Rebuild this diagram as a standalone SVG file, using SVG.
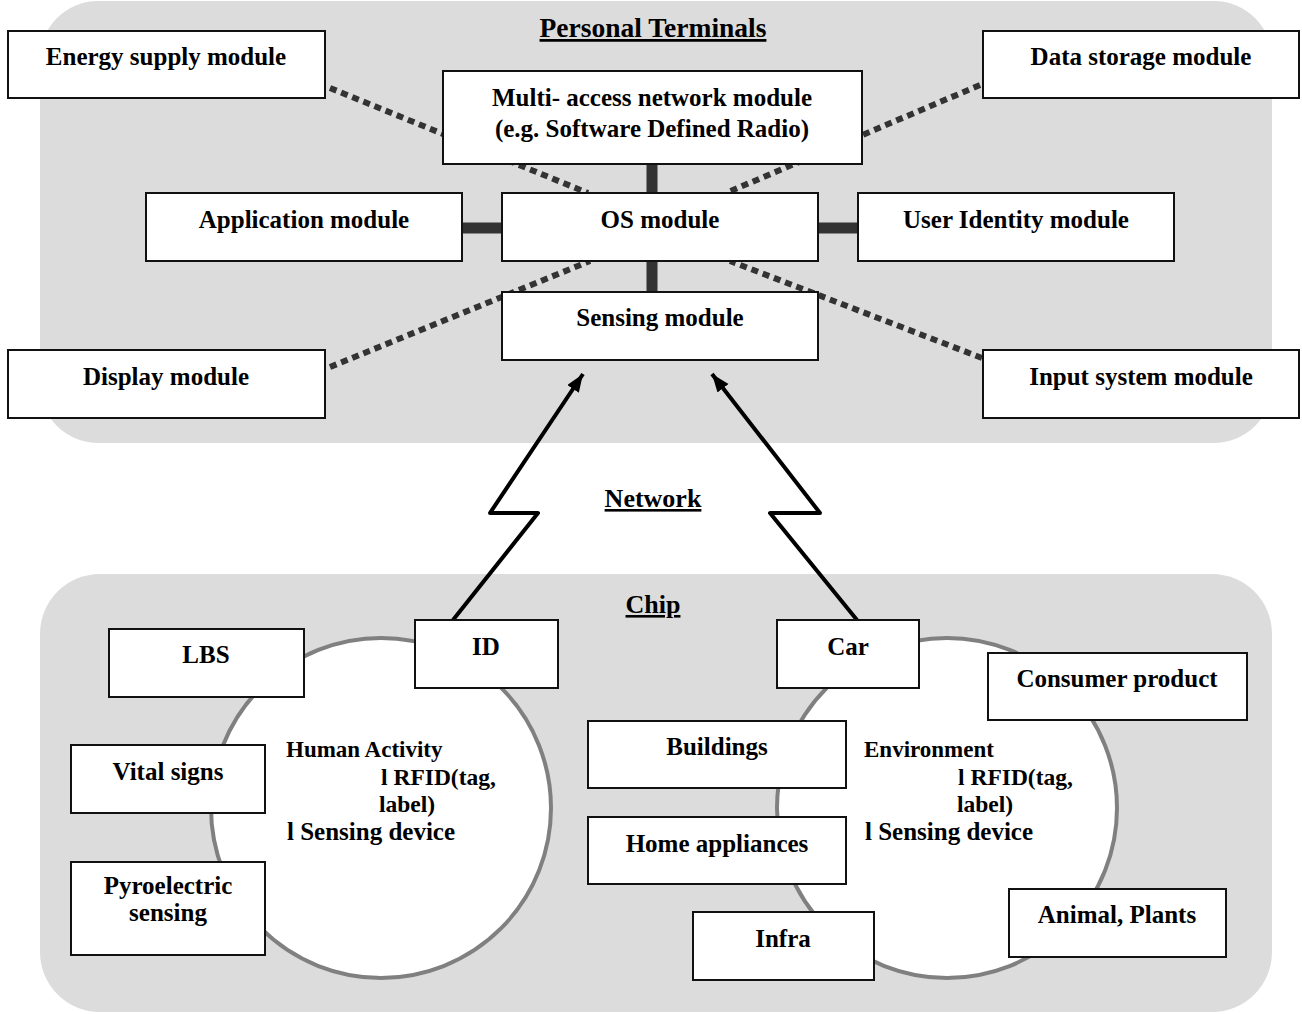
<svg xmlns="http://www.w3.org/2000/svg" width="1302" height="1014" viewBox="0 0 1302 1014">
<defs>
<style>
text{font-family:"Liberation Serif","Times New Roman",serif;font-weight:bold;fill:#000}
.lbl{font-size:25px;text-anchor:middle}
.cir{font-size:23px}
.cir2{font-size:23.5px}
.cir3{font-size:25px}
.ttl{font-size:26px;text-anchor:middle;text-decoration:underline}
.box{fill:#fff;stroke:#111;stroke-width:2}
.panel{fill:#dcdcdc;stroke:none}
.ring{fill:#fff;stroke:#808080;stroke-width:4}
.bar{stroke:#333;stroke-width:11;fill:none}
.dot{stroke:#333;stroke-width:6;stroke-dasharray:7 5;fill:none}
.arr{stroke:#000;stroke-width:4;fill:none;stroke-linejoin:round;marker-end:url(#ah)}
</style>
<marker id="ah" markerUnits="userSpaceOnUse" markerWidth="20" markerHeight="16" refX="18" refY="7" orient="auto">
<path d="M0,0 L18,7 L0,14 Z" fill="#000"/>
</marker>
</defs>
<g id="panel-terminals"><rect class="panel" x="40" y="1" width="1232" height="442" rx="58" ry="58"/>
<text class="ttl" x="653" y="37" style="font-size:27.5px">Personal Terminals</text></g>
<g id="panel-chip"><rect class="panel" x="40" y="574" width="1232" height="438" rx="60" ry="60"/>
<text class="ttl" x="653" y="613">Chip</text></g>
<g id="network-label"><text class="ttl" x="653" y="507">Network</text></g>
<g id="human-activity"><circle class="ring" cx="381" cy="808" r="170"/>
<text class="cir" x="286" y="757">Human Activity</text>
<text class="cir2" x="381" y="785">l RFID(tag,</text>
<text class="cir2" x="379" y="812">label)</text>
<text class="cir3" x="287" y="840">l Sensing device</text></g>
<g id="environment"><circle class="ring" cx="947" cy="808" r="170"/>
<text class="cir" x="864" y="757">Environment</text>
<text class="cir2" x="958" y="785">l RFID(tag,</text>
<text class="cir2" x="957" y="812">label)</text>
<text class="cir3" x="865" y="840">l Sensing device</text></g>
<g id="connectors">
<line class="bar" x1="652" y1="164" x2="652" y2="193"/>
<line class="bar" x1="652" y1="261" x2="652" y2="292"/>
<line class="bar" x1="462" y1="228" x2="502" y2="228"/>
<line class="bar" x1="818" y1="228" x2="858" y2="228"/>
<line class="dot" x1="330" y1="88" x2="588" y2="193"/>
<line class="dot" x1="980" y1="85" x2="726" y2="193"/>
<line class="dot" x1="330" y1="367" x2="590" y2="261"/>
<line class="dot" x1="982" y1="358" x2="730" y2="261"/>
<polyline class="arr" points="453,620 538,513 490,513 583,374"/>
<polyline class="arr" points="857,620 770,513 820,513 712,374"/>
</g>
<g id="energy"><rect class="box" x="8" y="31" width="317" height="67"/><text class="lbl" x="166" y="65">Energy supply module</text></g>
<g id="data-storage"><rect class="box" x="983" y="31" width="316" height="67"/><text class="lbl" x="1141" y="65">Data storage module</text></g>
<g id="multi-access"><rect class="box" x="443" y="71" width="419" height="93"/><text class="lbl" x="652" y="106">Multi- access network module</text><text class="lbl" x="652" y="137">(e.g. Software Defined Radio)</text></g>
<g id="application"><rect class="box" x="146" y="193" width="316" height="68"/><text class="lbl" x="304" y="228">Application module</text></g>
<g id="os"><rect class="box" x="502" y="193" width="316" height="68"/><text class="lbl" x="660" y="228">OS module</text></g>
<g id="user-identity"><rect class="box" x="858" y="193" width="316" height="68"/><text class="lbl" x="1016" y="228">User Identity module</text></g>
<g id="sensing"><rect class="box" x="502" y="292" width="316" height="68"/><text class="lbl" x="660" y="326">Sensing module</text></g>
<g id="display"><rect class="box" x="8" y="350" width="317" height="68"/><text class="lbl" x="166" y="385">Display module</text></g>
<g id="input-system"><rect class="box" x="983" y="350" width="316" height="68"/><text class="lbl" x="1141" y="385">Input system module</text></g>
<g id="lbs"><rect class="box" x="109" y="629" width="195" height="68"/><text class="lbl" x="206" y="663">LBS</text></g>
<g id="id"><rect class="box" x="415" y="620" width="143" height="68"/><text class="lbl" x="486" y="655">ID</text></g>
<g id="vital-signs"><rect class="box" x="71" y="745" width="194" height="68"/><text class="lbl" x="168" y="780">Vital signs</text></g>
<g id="pyroelectric"><rect class="box" x="71" y="862" width="194" height="93"/><text class="lbl" x="168" y="894">Pyroelectric</text><text class="lbl" x="168" y="921">sensing</text></g>
<g id="car"><rect class="box" x="777" y="620" width="142" height="68"/><text class="lbl" x="848" y="655">Car</text></g>
<g id="consumer-product"><rect class="box" x="988" y="653" width="259" height="67"/><text class="lbl" x="1117" y="687">Consumer product</text></g>
<g id="buildings"><rect class="box" x="588" y="721" width="258" height="67"/><text class="lbl" x="717" y="755">Buildings</text></g>
<g id="home-appliances"><rect class="box" x="588" y="817" width="258" height="67"/><text class="lbl" x="717" y="852">Home appliances</text></g>
<g id="infra"><rect class="box" x="693" y="912" width="181" height="68"/><text class="lbl" x="783" y="947">Infra</text></g>
<g id="animal-plants"><rect class="box" x="1009" y="889" width="217" height="68"/><text class="lbl" x="1117" y="923">Animal, Plants</text></g>
</svg>
